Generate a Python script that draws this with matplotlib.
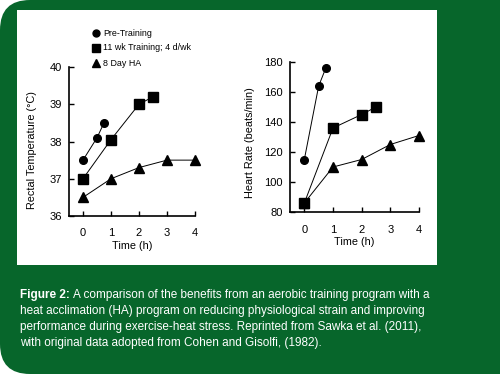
import matplotlib.pyplot as plt
from matplotlib.patches import FancyBboxPatch, Rectangle
from matplotlib import font_manager

# rectal temperature (C)
pre_t = [0, 0.5, 0.75]
pre_temp = [37.5, 38.1, 38.5]
trn_t = [0, 1, 2, 2.5]
trn_temp = [37.0, 38.05, 39.0, 39.2]
ha_t = [0, 1, 2, 3, 4]
ha_temp = [36.5, 37.0, 37.3, 37.5, 37.5]

# heart rate (beats/min)
pre_hr = [115, 164, 176]
trn_hr = [86, 136, 145, 150]
ha_hr = [86, 110, 115, 125, 131]

labels = ["Pre-Training", "11 wk Training; 4 d/wk", "8 Day HA"]
green = "#07662b"

names = {f.name for f in font_manager.fontManager.ttflist}
narrow = "Liberation Sans Narrow" if "Liberation Sans Narrow" in names else "Liberation Sans"
plt.rcParams['font.family'] = ['Liberation Sans', 'DejaVu Sans']

fig = plt.figure(figsize=(5, 3.74), dpi=100)
fig.patch.set_facecolor("white")

# green card with rounded left corners
fig.patches.append(FancyBboxPatch((0.0, 0.0), 1.2, 1.0, boxstyle="round,pad=0,rounding_size=0.06",
                                  transform=fig.transFigure, facecolor=green, edgecolor="none",
                                  mutation_aspect=500/374, zorder=-3))
fig.patches.append(Rectangle((17/500, 1 - 265/374), 420/500, 255/374, transform=fig.transFigure,
                             facecolor="white", edgecolor="none", zorder=-2))

mk = dict(color="black", lw=0.7, clip_on=False)

def style(ax, ylab, ylab_x, ylab_y):
    ax.set_facecolor("none")
    for s in ["top", "right"]:
        ax.spines[s].set_visible(False)
    for s in ["left", "bottom"]:
        ax.spines[s].set_linewidth(1.2)
    ax.tick_params(direction="in", length=3.5, width=1.0, labelsize=8)
    ax.tick_params(axis="y", pad=5)
    ax.tick_params(axis="x", pad=9)
    ax.set_xlim(-0.5, 4)
    ax.set_xticks([0, 1, 2, 3, 4])
    ax.text(0.5, -0.2, "Time (h)", fontsize=7.8, ha="center", va="center", transform=ax.transAxes)
    ax.text(ylab_x, ylab_y, ylab, fontsize=7.8, rotation=90, ha="center", va="center",
            transform=ax.transAxes)

ax1 = fig.add_axes([69/500, 1 - 216/374, 126/500, 149/374])
ax1.plot(pre_t, pre_temp, marker="o", ms=5.5, **mk)
ax1.plot(trn_t, trn_temp, marker="s", ms=6.5, **mk)
ax1.plot(ha_t, ha_temp, marker="^", ms=7, **mk)
ax1.set_ylim(36, 40)
ax1.set_yticks([36, 37, 38, 39, 40])
style(ax1, "Rectal Temperature (°C)", -0.29, 0.44)

ax2 = fig.add_axes([290/500, 1 - 212/374, 129/500, 150/374])
ax2.plot(pre_t, pre_hr, marker="o", ms=5.5, **mk)
ax2.plot(trn_t, trn_hr, marker="s", ms=6.5, **mk)
ax2.plot(ha_t, ha_hr, marker="^", ms=7, **mk)
ax2.set_ylim(80, 180)
ax2.set_yticks([80, 100, 120, 140, 160, 180])
style(ax2, "Heart Rate (beats/min)", -0.31, 0.46)

# legend
for i, (m, lab) in enumerate(zip(["o", "s", "^"], labels)):
    y = 1 - (33 + 15 * i) / 374
    fig.lines.append(plt.Line2D([96/500], [y], marker=m, ms=5.5 if m != "o" else 5,
                                color="black", transform=fig.transFigure, zorder=3))
    fig.text(103/500, y, lab, fontsize=6.4, va="center", ha="left", zorder=3)

# caption
cap = ["heat acclimation (HA) program on reducing physiological strain and improving",
       "performance during exercise-heat stress. Reprinted from Sawka et al. (2011),",
       "with original data adopted from Cohen and Gisolfi, (1982)."]
t = fig.text(20/500, 1 - 295/374, "Figure 2:", color="white", fontsize=8.5, weight="bold",
             family=narrow, va="center")
fig.canvas.draw()
bb = t.get_window_extent()
fig.text(bb.x1 / 500 + 0.006, 1 - 295/374,
         "A comparison of the benefits from an aerobic training program with a",
         color="white", fontsize=8.5, family=narrow, va="center")
for i, line in enumerate(cap):
    fig.text(20/500, 1 - (311 + 16 * i) / 374, line, color="white", fontsize=8.5,
             family=narrow, va="center")

fig.savefig("out.png", dpi=100)
